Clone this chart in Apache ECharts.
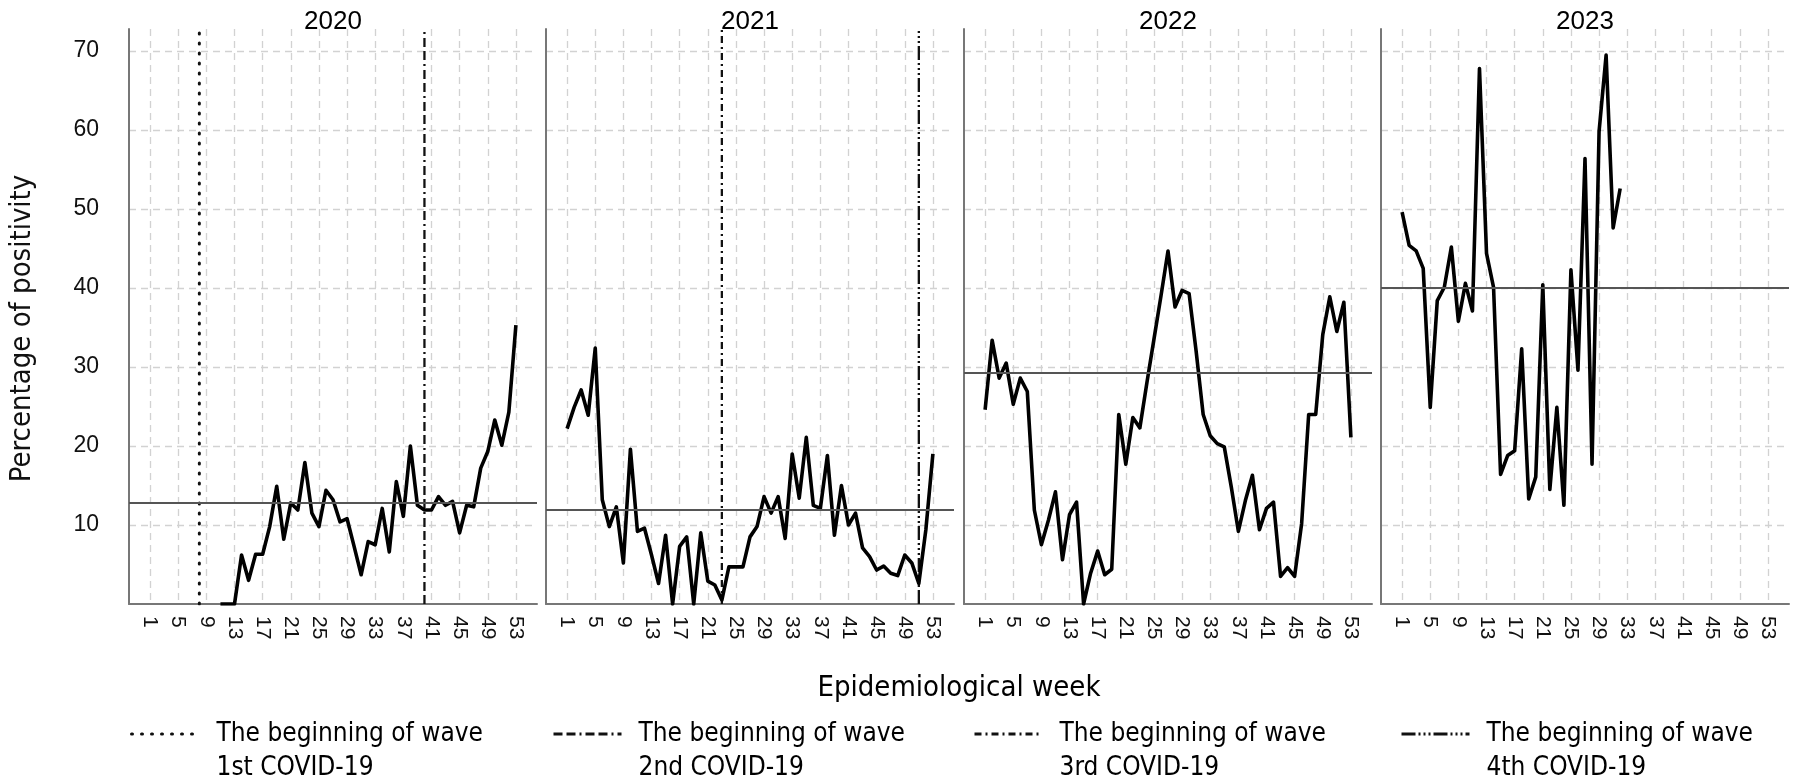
<!DOCTYPE html>
<html><head><meta charset="utf-8">
<script src="https://cdn.jsdelivr.net/npm/echarts@6/dist/echarts.min.js"></script>
<style>html,body{margin:0;padding:0;background:#fff}#c{width:1800px;height:781px}</style>
</head><body><div id="c"></div>
<script>
// ---- data ----
const years = ['2020', '2021', '2022', '2023'];
const weekTickLabels = [1, 5, 9, 13, 17, 21, 25, 29, 33, 37, 41, 45, 49, 53];
const yTickLabels = [10, 20, 30, 40, 50, 60, 70];
// positivity by epidemiological week (index 0 = week 1), null = no data
const pos2020 = [null, null, null, null, null, null, null, null, null, null,
  0, 0, 0, 6.2, 3.0, 6.3, 6.3, 9.8, 14.9, 8.2,
  12.8, 11.9, 17.9, 11.5, 9.8, 14.4, 13.2, 10.4, 10.8, 7.3,
  3.7, 7.9, 7.5, 12.1, 6.6, 15.5, 11.1, 20.0, 12.5, 11.9,
  11.9, 13.6, 12.5, 13.0, 9.0, 12.5, 12.3, 17.2, 19.3, 23.3,
  20.1, 24.3, 35.3];
const pos2021 = [22.2, 24.9, 27.1, 23.9, 32.4, 13.2, 9.8, 12.3, 5.2, 19.6,
  9.2, 9.6, 6.2, 2.6, 8.7, 0, 7.3, 8.5, 0, 9.0,
  2.9, 2.4, 0.5, 4.7, 4.7, 4.7, 8.5, 9.8, 13.6, 11.5,
  13.6, 8.3, 19.0, 13.4, 21.1, 12.5, 12.1, 18.8, 8.7, 15.0,
  10.0, 11.5, 7.1, 6.0, 4.3, 4.8, 3.9, 3.6, 6.2, 5.2,
  2.6, 9.4, 19.0];
const pos2022 = [24.6, 33.4, 28.6, 30.5, 25.3, 28.6, 26.9, 11.9, 7.5, 10.6,
  14.2, 5.6, 11.3, 12.9, 0, 3.9, 6.7, 3.7, 4.4, 24.0,
  17.7, 23.6, 22.3, 28.0, 33.5, 39.0, 44.7, 37.6, 39.7, 39.3,
  32.0, 24.0, 21.3, 20.3, 19.9, 14.8, 9.2, 13.1, 16.3, 9.4,
  12.1, 12.9, 3.5, 4.6, 3.5, 10.2, 24.0, 24.0, 34.1, 38.9,
  34.5, 38.2, 21.1];
const pos2023 = [49.6, 45.4, 44.7, 42.5, 24.9, 38.4, 40.1, 45.2, 35.8, 40.6,
  37.1, 67.8, 44.4, 40.1, 16.4, 18.8, 19.4, 32.3, 13.3, 16.1,
  40.4, 14.5, 24.9, 12.5, 42.3, 29.6, 56.4, 17.7, 59.8, 69.5,
  47.6, 52.6];
const yearSeries = [pos2020, pos2021, pos2022, pos2023];
const meanLevels = [12.8, 11.9, 29.3, 40.0];
const waveNames = ['The beginning of wave\n1st COVID-19', 'The beginning of wave\n2nd COVID-19',
  'The beginning of wave\n3rd COVID-19', 'The beginning of wave\n4th COVID-19'];
const waveWeeks = [8, 40, 23, 51];
const waveYearIndex = [0, 0, 1, 1];

// ---- layout / style ----
const Y_MAX = 72.8;
const gridLefts = [129, 546, 964, 1381];
const gridW = 408, gridTop = 29, gridH = 575;
const legendLefts = [130, 552, 973, 1400];
const waveDash = [[1, 9], [9, 4, 9, 4, 2, 4], [7, 4, 2, 4], [14, 3, 2, 3, 2, 3, 2, 3]];
const waveCap = ['round', 'butt', 'butt', 'butt'];
const narrowA = "'Liberation Sans Narrow', 'DejaVu Sans Condensed', 'Liberation Sans', sans-serif";
const narrowB = "'DejaVu Sans Condensed', 'Liberation Sans Narrow', 'Liberation Sans', sans-serif";
const normal = "'Liberation Sans', Arial, sans-serif";

const cats = [];
for (let w = -2; w <= 56; w++) cats.push(String(w));
const isTick = (idx, val) => weekTickLabels.indexOf(Number(val)) >= 0;
const gridLine = { show: true, lineStyle: { color: '#d2d2d2', width: 1.3, type: [7, 5] } };

const grid = [], xAxis = [], yAxis = [], series = [], title = [], legend = [];
years.forEach((yr, i) => {
  grid.push({ left: gridLefts[i], top: gridTop, width: gridW, height: gridH });
  xAxis.push({
    type: 'category', gridIndex: i, data: cats, boundaryGap: false,
    axisLine: { show: true, lineStyle: { color: '#777', width: 2 } },
    axisTick: { show: false },
    axisLabel: { interval: isTick, rotate: -90, margin: 12, fontSize: 21, color: '#111', fontFamily: normal },
    splitLine: Object.assign({ interval: isTick }, gridLine)
  });
  yAxis.push({
    type: 'value', gridIndex: i, min: 0, max: Y_MAX, interval: 10,
    axisLine: { show: true, lineStyle: { color: '#777', width: 2 } },
    axisTick: { show: false },
    axisLabel: {
      show: i === 0, fontSize: 23, color: '#111', margin: 30, fontFamily: normal,
      showMinLabel: false, showMaxLabel: false,
      formatter: v => (yTickLabels.indexOf(v) >= 0 ? String(v) : '')
    },
    splitLine: Object.assign({ showMinLine: false, showMaxLine: false }, gridLine),
    name: i === 0 ? 'Percentage of positivity' : '',
    nameLocation: 'middle', nameGap: 92, nameRotate: 90,
    nameTextStyle: { fontSize: 29, color: '#111', fontFamily: narrowA, padding: [0, 24, 0, 0] }
  });
  const vals = yearSeries[i];
  const data = [];
  vals.forEach((v, k) => { if (v !== null) data.push([String(k + 1), v]); });
  series.push({
    type: 'line', name: yr, xAxisIndex: i, yAxisIndex: i, data: data,
    symbol: 'none', silent: true, z: 3,
    lineStyle: { color: '#000', width: 3.6, join: 'round' },
    markLine: {
      silent: true, symbol: ['none', 'none'], label: { show: false },
      lineStyle: { color: '#555', width: 1.8, type: 'solid' },
      data: [{ yAxis: meanLevels[i] }]
    }
  });
  title.push({
    text: yr, left: gridLefts[i] + gridW / 2, textAlign: 'center', top: 9, padding: 0,
    textStyle: { fontSize: 26, fontWeight: 'normal', color: '#000', fontFamily: normal }
  });
});

waveNames.forEach((nm, j) => {
  const yi = waveYearIndex[j];
  series.push({
    type: 'line', name: nm, xAxisIndex: yi, yAxisIndex: yi, symbol: 'none', silent: true, z: 2,
    data: [[String(waveWeeks[j]), 0], [String(waveWeeks[j]), Y_MAX]],
    itemStyle: { color: '#111' },
    lineStyle: { color: '#111', width: j === 0 ? 3 : 2.3, type: waveDash[j], cap: waveCap[j] }
  });
  legend.push({
    data: [nm], left: legendLefts[j], top: 683, selectedMode: false,
    itemWidth: 68, itemHeight: 16, padding: 0,
    itemStyle: { opacity: 0 },
    lineStyle: { width: 3 },
    formatter: n => ' \n' + n,
    textStyle: { fontSize: 26, lineHeight: 34, color: '#000', fontFamily: narrowB, padding: [0, 0, 0, 12] }
  });
});

title.push({
  text: 'Epidemiological week', left: (gridLefts[0] + gridLefts[3] + gridW) / 2, textAlign: 'center',
  top: 674, padding: 0,
  textStyle: { fontSize: 29, fontWeight: 'normal', color: '#000', fontFamily: narrowA }
});

const chart = echarts.init(document.getElementById('c'), null, { renderer: 'canvas' });
chart.setOption({ animation: false, backgroundColor: '#fff', title, legend, grid, xAxis, yAxis, series });
</script>
</body></html>
